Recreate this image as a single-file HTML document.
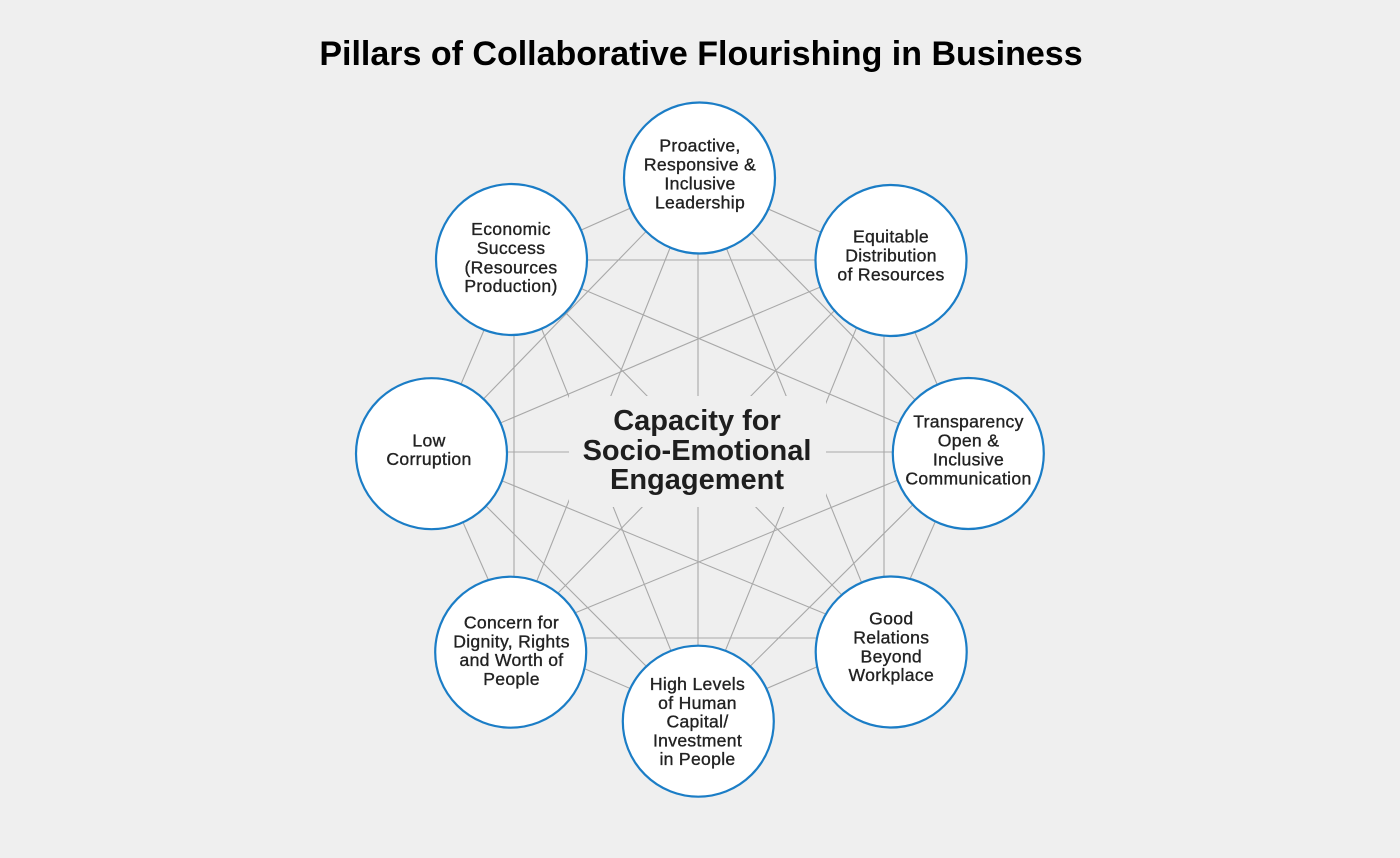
<!DOCTYPE html>
<html>
<head>
<meta charset="utf-8">
<style>
  html, body { margin:0; padding:0; background:#efefef; }
  body { width:1400px; height:858px; overflow:hidden; }
  svg { display:block; }
  .n { font-family:"Liberation Sans", sans-serif; font-size:17.6px; fill:#222; stroke:#222; stroke-width:0.35px; letter-spacing:0.3px; text-anchor:middle; }
  .c { font-family:"Liberation Sans", sans-serif; font-weight:bold; font-size:29px; fill:#1e1e1e; letter-spacing:0px; text-anchor:middle; }
  .t { font-family:"Liberation Sans", sans-serif; font-weight:bold; font-size:34px; fill:#000; text-anchor:middle; }
</style>
</head>
<body>
<svg width="1400" height="858" viewBox="0 0 1400 858" xmlns="http://www.w3.org/2000/svg">
  <rect x="0" y="0" width="1400" height="858" fill="#efefef"/>
  <text class="t" x="701" y="65">Pillars of Collaborative Flourishing in Business</text>

  <g stroke="#a8a8a8" stroke-width="1.1" fill="none">
    <line x1="698" y1="178" x2="884" y2="260"/>
    <line x1="698" y1="178" x2="966" y2="452"/>
    <line x1="698" y1="178" x2="884" y2="638"/>
    <line x1="698" y1="178" x2="698" y2="718"/>
    <line x1="698" y1="178" x2="514" y2="638"/>
    <line x1="698" y1="178" x2="432" y2="452"/>
    <line x1="698" y1="178" x2="514" y2="260"/>

    <line x1="884" y1="260" x2="966" y2="452"/>
    <line x1="884" y1="260" x2="884" y2="638"/>
    <line x1="884" y1="260" x2="698" y2="718"/>
    <line x1="884" y1="260" x2="514" y2="638"/>
    <line x1="884" y1="260" x2="432" y2="452"/>
    <line x1="884" y1="260" x2="514" y2="260"/>

    <line x1="966" y1="452" x2="884" y2="638"/>
    <line x1="966" y1="452" x2="698" y2="718"/>
    <line x1="966" y1="452" x2="514" y2="638"/>
    <line x1="966" y1="452" x2="432" y2="452"/>
    <line x1="966" y1="452" x2="514" y2="260"/>

    <line x1="884" y1="638" x2="698" y2="718"/>
    <line x1="884" y1="638" x2="514" y2="638"/>
    <line x1="884" y1="638" x2="432" y2="452"/>
    <line x1="884" y1="638" x2="514" y2="260"/>

    <line x1="698" y1="718" x2="514" y2="638"/>
    <line x1="698" y1="718" x2="432" y2="452"/>
    <line x1="698" y1="718" x2="514" y2="260"/>

    <line x1="514" y1="638" x2="432" y2="452"/>
    <line x1="514" y1="638" x2="514" y2="260"/>

    <line x1="432" y1="452" x2="514" y2="260"/>
  </g>

  <rect x="569" y="396" width="257" height="111" fill="#efefef"/>
  <text class="c" x="697" y="430">Capacity for</text>
  <text class="c" x="697" y="460">Socio-Emotional</text>
  <text class="c" x="697" y="489">Engagement</text>

  <g fill="#ffffff" stroke="#1b7dc6" stroke-width="2.2">
    <circle cx="699.5" cy="178" r="75.5"/>
    <circle cx="891" cy="260.5" r="75.5"/>
    <circle cx="968.3" cy="453.5" r="75.5"/>
    <circle cx="891.2" cy="652" r="75.5"/>
    <circle cx="698.3" cy="721.2" r="75.5"/>
    <circle cx="510.7" cy="652.2" r="75.5"/>
    <circle cx="431.5" cy="453.7" r="75.5"/>
    <circle cx="511.5" cy="259.5" r="75.5"/>
  </g>

  <text class="n" x="700" y="151.7">Proactive,</text>
  <text class="n" x="700" y="170.5">Responsive &amp;</text>
  <text class="n" x="700" y="189.3">Inclusive</text>
  <text class="n" x="700" y="208.3">Leadership</text>

  <text class="n" x="511" y="235">Economic</text>
  <text class="n" x="511" y="254">Success</text>
  <text class="n" x="511" y="273.3">(Resources</text>
  <text class="n" x="511" y="292">Production)</text>

  <text class="n" x="891" y="242.7">Equitable</text>
  <text class="n" x="891" y="261.7">Distribution</text>
  <text class="n" x="891" y="280.7">of Resources</text>

  <text class="n" x="429" y="446.7">Low</text>
  <text class="n" x="429" y="465">Corruption</text>

  <text class="n" x="968.5" y="427.7">Transparency</text>
  <text class="n" x="968.5" y="446.7">Open &amp;</text>
  <text class="n" x="968.5" y="465.5">Inclusive</text>
  <text class="n" x="968.5" y="484.3">Communication</text>

  <text class="n" x="511.5" y="628.3">Concern for</text>
  <text class="n" x="511.5" y="647.3">Dignity, Rights</text>
  <text class="n" x="511.5" y="666">and Worth of</text>
  <text class="n" x="511.5" y="685">People</text>

  <text class="n" x="891.3" y="624.3">Good</text>
  <text class="n" x="891.3" y="643.3">Relations</text>
  <text class="n" x="891.3" y="662.3">Beyond</text>
  <text class="n" x="891.3" y="681">Workplace</text>

  <text class="n" x="697.5" y="690">High Levels</text>
  <text class="n" x="697.5" y="709">of Human</text>
  <text class="n" x="697.5" y="727.7">Capital/</text>
  <text class="n" x="697.5" y="746.7">Investment</text>
  <text class="n" x="697.5" y="765">in People</text>
</svg>
</body>
</html>
